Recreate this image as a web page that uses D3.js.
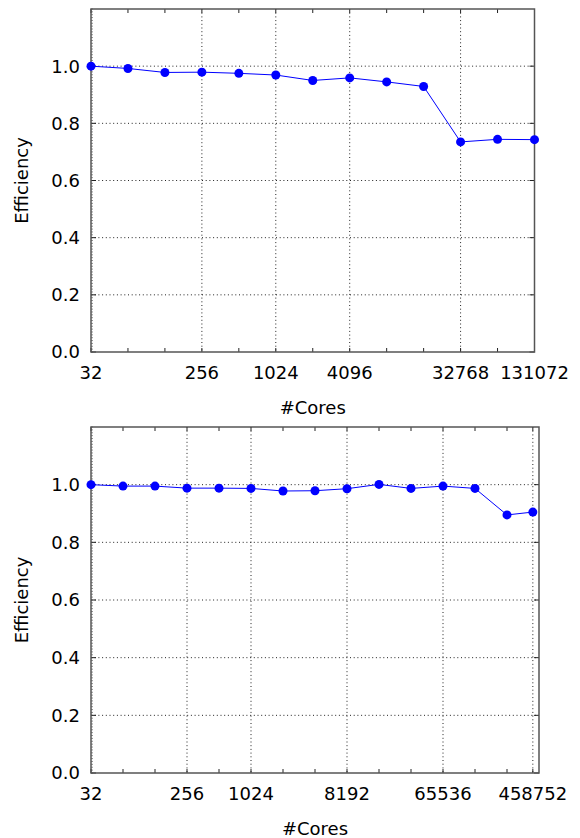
<!DOCTYPE html>
<html>
<head>
<meta charset="utf-8">
<script src="https://cdn.jsdelivr.net/npm/d3@7"></script>
<style>
  body { margin: 0; background: #fff; }
  text { font-family: "DejaVu Sans", sans-serif; fill: #000; }
</style>
</head>
<body>
<div id="chart"></div>
<script>
// Data //
const coresTop = [32, 64, 128, 256, 512, 1024, 2048, 4096, 8192, 16384, 32768, 65536, 131072];
const effTop = [1.0, 0.992, 0.978, 0.979, 0.975, 0.969, 0.950, 0.959, 0.945, 0.929, 0.735, 0.744, 0.743];
const tickLabelsTop = [32, 256, 1024, 4096, 32768, 131072];

const coresBottom = [32, 64, 128, 256, 512, 1024, 2048, 4096, 8192, 16384, 32768, 65536, 131072, 262144, 458752];
const effBottom = [1.0, 0.995, 0.995, 0.988, 0.988, 0.987, 0.978, 0.979, 0.986, 1.001, 0.987, 0.995, 0.987, 0.895, 0.905];
const tickLabelsBottom = [32, 256, 1024, 8192, 65536, 458752];

const yTicks = [0, 0.2, 0.4, 0.6, 0.8, 1.0];

/* Canvas */
const svg = d3.select("#chart")
    .append("svg")
    .attr("width", 580)
    .attr("height", 838);

const fontSize = "18px";

// Draw one panel
function drawPanel(box, xDomainMax, cores, eff, tickLabels) {
    const xScale = d3.scaleLog().base(2)
        .domain([32, xDomainMax])
        .range([box.left, box.right]);
    const yScale = d3.scaleLinear()
        .domain([0, 1.2])
        .range([box.bottom, box.top]);

    const g = svg.append("g");

    /* Grid lines */
    g.selectAll(".hgrid")
        .data(yTicks.filter(d => d > 0))
        .join("line")
        .attr("x1", box.left).attr("x2", box.right)
        .attr("y1", d => yScale(d)).attr("y2", d => yScale(d))
        .attr("stroke", "#222")
        .attr("stroke-width", 1)
        .attr("stroke-dasharray", "1,2.7");

    g.selectAll(".vgrid")
        .data(tickLabels.filter(d => d > 32))
        .join("line")
        .attr("x1", d => xScale(d)).attr("x2", d => xScale(d))
        .attr("y1", box.top).attr("y2", box.bottom)
        .attr("stroke", "#222")
        .attr("stroke-width", 1)
        .attr("stroke-dasharray", "1,2.7");

    /* Minor ticks on left spine */
    g.selectAll(".yminor")
        .data(d3.range(0, 121).map(i => i / 100))
        .join("line")
        .attr("x1", box.left).attr("x2", box.left + 2)
        .attr("y1", d => yScale(d)).attr("y2", d => yScale(d))
        .attr("stroke", "#444")
        .attr("stroke-width", 0.6);

    /* Major y ticks, both sides */
    g.selectAll(".ytickL")
        .data(yTicks)
        .join("line")
        .attr("x1", box.left).attr("x2", box.left + 5)
        .attr("y1", d => yScale(d)).attr("y2", d => yScale(d))
        .attr("stroke", "#222");
    g.selectAll(".ytickR")
        .data(yTicks)
        .join("line")
        .attr("x1", box.right - 5).attr("x2", box.right)
        .attr("y1", d => yScale(d)).attr("y2", d => yScale(d))
        .attr("stroke", "#222");

    /* X ticks at every data point, top and bottom */
    g.selectAll(".xtickT")
        .data(cores)
        .join("line")
        .attr("x1", d => xScale(d)).attr("x2", d => xScale(d))
        .attr("y1", box.top).attr("y2", box.top + 4)
        .attr("stroke", "#222");
    g.selectAll(".xtickB")
        .data(cores)
        .join("line")
        .attr("x1", d => xScale(d)).attr("x2", d => xScale(d))
        .attr("y1", box.bottom).attr("y2", box.bottom - 4)
        .attr("stroke", "#222");

    /* Frame */
    g.append("rect")
        .attr("x", box.left).attr("y", box.top)
        .attr("width", box.right - box.left)
        .attr("height", box.bottom - box.top)
        .attr("fill", "none")
        .attr("stroke", "#555")
        .attr("stroke-width", 1.5);

    /* Tick labels */
    g.selectAll(".ylabel")
        .data(yTicks)
        .join("text")
        .attr("x", box.left - 11)
        .attr("y", d => yScale(d))
        .attr("dy", "0.36em")
        .attr("text-anchor", "end")
        .attr("font-size", fontSize)
        .text(d => d.toFixed(1));

    g.selectAll(".xlabel")
        .data(tickLabels)
        .join("text")
        .attr("x", d => xScale(d))
        .attr("y", box.bottom + 27)
        .attr("text-anchor", "middle")
        .attr("font-size", fontSize)
        .text(d => d);

    /* Axis titles */
    g.append("text")
        .attr("x", (box.left + box.right) / 2)
        .attr("y", box.bottom + 62)
        .attr("text-anchor", "middle")
        .attr("font-size", fontSize)
        .text("#Cores");

    g.append("text")
        .attr("transform", `translate(28,${(box.top + box.bottom) / 2}) rotate(-90)`)
        .attr("text-anchor", "middle")
        .attr("font-size", fontSize)
        .text("Efficiency");

    /* Line and markers */
    const pts = cores.map((c, i) => [c, eff[i]]);
    const line = d3.line()
        .x(d => xScale(d[0]))
        .y(d => yScale(d[1]));

    g.append("path")
        .datum(pts)
        .attr("d", line)
        .attr("fill", "none")
        .attr("stroke", "#0000ff")
        .attr("stroke-width", 1);

    g.selectAll(".dot")
        .data(pts)
        .join("circle")
        .attr("cx", d => xScale(d[0]))
        .attr("cy", d => yScale(d[1]))
        .attr("r", 4.5)
        .attr("fill", "#0000ff");
}

drawPanel({ left: 91, right: 534.5, top: 9, bottom: 352 }, 131072, coresTop, effTop, tickLabelsTop);
drawPanel({ left: 91, right: 539, top: 427, bottom: 773 }, 524288, coresBottom, effBottom, tickLabelsBottom);
</script>
</body>
</html>
